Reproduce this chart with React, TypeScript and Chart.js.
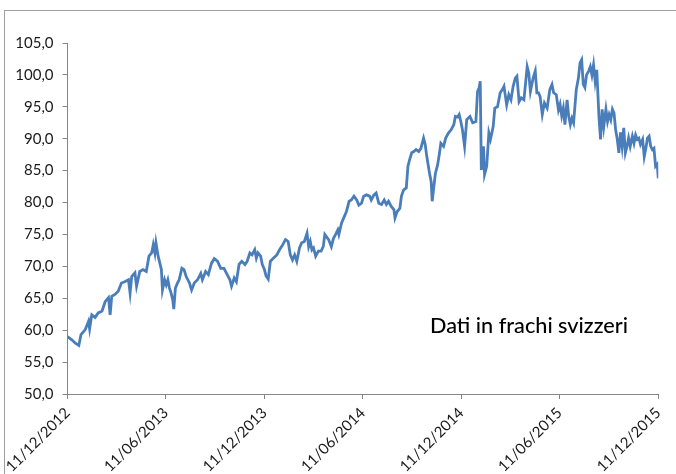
import React, { useEffect, useRef } from "react";
import { Chart, registerables } from "chart.js";

Chart.register(...registerables);

// Days elapsed since 11/12/2012 for each observation
const dayOffsets: number[] = [
  0, 8, 14, 21, 25, 33, 39, 41, 45, 51, 57, 64, 70, 76, 79, 82, 88, 94, 100, 106,
  113, 116, 119, 125, 128, 134, 140, 146, 151, 156, 159, 162, 164, 168, 174, 176, 180, 183, 186, 189,
  192, 195, 197, 200, 204, 207, 212, 216, 220, 226, 230, 235, 241, 247, 250, 256, 261, 267, 272, 278,
  284, 290, 296, 301, 304, 309, 313, 318, 323, 329, 333, 338, 342, 347, 350, 353, 358, 361, 365, 368,
  372, 376, 382, 388, 393, 399, 404, 409, 413, 417, 421, 425, 430, 434, 439, 444, 447, 450, 453, 456,
  460, 465, 470, 474, 477, 484, 489, 493, 497, 501, 503, 508, 513, 517, 522, 526, 531, 536, 540, 545,
  549, 554, 560, 563, 568, 572, 577, 582, 587, 591, 595, 600, 605, 607, 611, 616, 619, 623, 628, 631,
  634, 638, 642, 646, 651, 655, 660, 663, 666, 671, 674, 676, 679, 682, 686, 689, 692, 697, 701, 706,
  711, 716, 719, 723, 726, 729, 732, 736, 740, 746, 751, 757, 760, 763, 765, 767, 771, 773, 777, 781,
  784, 789, 792, 797, 802, 806, 809, 814, 818, 822, 826, 830, 833, 837, 841, 846, 852, 855, 858, 863,
  867, 870, 873, 876, 880, 884, 889, 894, 898, 901, 906, 910, 913, 916, 919, 922, 926, 929, 932, 935,
  938, 943, 947, 950, 953, 956, 959, 962, 966, 969, 972, 975, 978, 981, 983, 985, 988, 991, 994, 998,
  1001, 1004, 1007, 1010, 1013, 1016, 1019, 1022, 1025, 1028, 1031, 1034, 1037, 1040, 1043, 1047, 1050, 1053, 1056, 1059,
  1062, 1066, 1069, 1072, 1075, 1078, 1081, 1084, 1087, 1090, 1093, 1095,
];

// Price (Swiss francs)
const prices: number[] = [
  59.0, 58.5, 58.0, 57.6, 59.3, 60.1, 61.4, 60.2, 62.4, 62.0, 62.7, 63.0, 64.5, 65.1, 62.4, 65.3, 65.6, 66.1, 67.4, 67.6,
  67.9, 65.8, 68.4, 69.0, 66.9, 69.2, 69.5, 69.2, 71.6, 72.1, 73.4, 72.1, 73.7, 71.6, 69.5, 66.3, 67.9, 67.1, 67.9, 66.6,
  65.8, 64.8, 63.3, 66.6, 67.4, 67.9, 69.7, 69.5, 68.4, 67.4, 66.3, 67.4, 67.9, 68.9, 67.9, 69.2, 68.7, 70.5, 71.2, 70.8,
  69.7, 69.7, 68.7, 67.9, 66.9, 68.2, 67.6, 70.3, 70.8, 70.3, 70.8, 72.1, 71.8, 72.6, 71.3, 72.1, 71.6, 70.3, 69.5, 68.5,
  68.0, 70.8, 71.3, 71.8, 72.6, 73.4, 74.2, 73.9, 71.8, 71.0, 71.8, 70.8, 72.9, 73.7, 73.9, 75.2, 73.1, 73.9, 72.6, 72.9,
  71.6, 72.4, 72.4, 73.1, 75.0, 74.2, 73.1, 74.4, 75.0, 75.7, 75.0, 76.8, 77.8, 78.6, 80.2, 80.4, 81.0, 80.4, 79.6, 79.9,
  81.0, 81.2, 81.0, 80.4, 81.2, 81.5, 79.9, 79.7, 80.4, 79.7, 80.2, 79.4, 78.9, 77.6, 78.6, 79.1, 81.0, 82.0, 82.3, 85.7,
  86.7, 87.8, 88.0, 88.3, 88.0, 88.5, 90.1, 89.1, 87.2, 84.6, 83.3, 80.2, 82.5, 84.6, 85.9, 87.5, 89.3, 88.8, 90.1, 90.9,
  91.4, 92.2, 93.5, 93.4, 93.8, 92.7, 91.4, 88.8, 93.0, 93.5, 92.5, 92.7, 97.4, 98.0, 99.0, 85.1, 88.8, 84.4, 85.7, 90.9,
  89.9, 91.9, 94.8, 95.0, 97.2, 97.7, 98.2, 95.3, 96.9, 96.1, 98.2, 99.5, 99.8, 95.8, 96.4, 96.1, 101.3, 100.3, 97.4, 99.5,
  100.6, 97.2, 97.2, 96.6, 93.8, 95.6, 94.8, 97.7, 98.5, 97.2, 96.9, 94.5, 95.4, 93.6, 94.8, 92.2, 96.1, 93.5, 92.2, 93.2,
  92.5, 97.7, 99.5, 101.9, 102.4, 98.5, 98.0, 100.0, 100.6, 101.3, 100.0, 101.6, 99.0, 100.8, 97.2, 93.5, 89.9, 94.6, 91.9, 94.6,
  92.7, 93.8, 93.0, 94.6, 94.0, 91.4, 89.9, 87.8, 91.0, 88.8, 91.7, 87.8, 88.8, 90.1, 88.8, 90.4, 89.3, 90.6, 89.9, 90.1,
  89.1, 89.9, 87.2, 88.5, 90.1, 90.4, 88.8, 88.3, 88.5, 85.7, 86.0, 83.8,
];

const tickDays: number[] = [0, 182, 365, 547, 730, 912, 1095];
const tickLabels: string[] = [
  "11/12/2012",
  "11/06/2013",
  "11/12/2013",
  "11/06/2014",
  "11/12/2014",
  "11/06/2015",
  "11/12/2015",
];
const yMin = 50;
const yMax = 105;
const yStep = 5;
const noteText = "Dati in frachi svizzeri";

const W = 676;
const H = 474;

export default function App() {
  const ref = useRef<HTMLCanvasElement | null>(null);

  useEffect(() => {
    if (!ref.current) return;
    const axisColor = "#868686";
    const font = "Lato, 'Open Sans', sans-serif";

    const notePlugin = {
      id: "note",
      afterDraw(chart: any) {
        const ctx = chart.ctx;
        ctx.save();
        ctx.font = `500 22px ${font}`;
        ctx.fillStyle = "#000";
        ctx.textBaseline = "alphabetic";
        const w = ctx.measureText(noteText).width;
        ctx.translate(430, 333);
        ctx.scale(198 / w, 1);
        ctx.fillText(noteText, 0, 0);
        ctx.restore();
      },
    };

    const chart = new Chart(ref.current, {
      type: "line",
      data: {
        datasets: [
          {
            data: dayOffsets.map((d, i) => ({ x: d, y: prices[i] })),
            borderColor: "#4a7ebb",
            borderWidth: 2.8,
            pointRadius: 0,
            tension: 0,
            fill: false,
          },
        ],
      },
      options: {
        responsive: false,
        animation: false,
        devicePixelRatio: 1,
        layout: { padding: { left: 0, right: 14, top: 43, bottom: 0 } },
        plugins: { legend: { display: false }, tooltip: { enabled: false } },
        scales: {
          x: {
            type: "linear",
            min: 0,
            max: 1095,
            afterBuildTicks: (axis: any) => {
              axis.ticks = tickDays.map((v) => ({ value: v }));
            },
            afterFit: (axis: any) => {
              axis.height = 80;
            },
            ticks: {
              autoSkip: false,
              maxRotation: 45,
              minRotation: 45,
              padding: 5,
              color: "#1a1a1a",
              font: { family: font, size: 15 },
              callback: (_v: any, i: number) => tickLabels[i],
            },
            grid: { drawOnChartArea: false, drawTicks: true, tickLength: 5, color: axisColor },
            border: { color: axisColor, width: 1 },
          },
          y: {
            min: yMin,
            max: yMax,
            afterFit: (axis: any) => {
              axis.width = 67.5;
            },
            ticks: {
              stepSize: yStep,
              padding: 9,
              color: "#1a1a1a",
              font: { family: font, size: 15 },
              callback: (v: any) => Number(v).toFixed(1).replace(".", ","),
            },
            grid: { drawOnChartArea: false, drawTicks: true, tickLength: 5, color: axisColor },
            border: { color: axisColor, width: 1 },
          },
        },
      },
      plugins: [notePlugin],
    } as any);
    return () => chart.destroy();
  }, []);

  return (
    <div
      style={{
        position: "fixed",
        left: 0,
        top: 0,
        width: W,
        height: H,
        overflow: "hidden",
        background: "#fff",
      }}
    >
      <div
        style={{
          position: "absolute",
          left: 4,
          top: 10,
          width: 720,
          height: 520,
          border: "1px solid #a0a0a0",
        }}
      />
      <canvas ref={ref} width={W} height={H} style={{ position: "absolute", left: 0, top: 0 }} />
    </div>
  );
}
